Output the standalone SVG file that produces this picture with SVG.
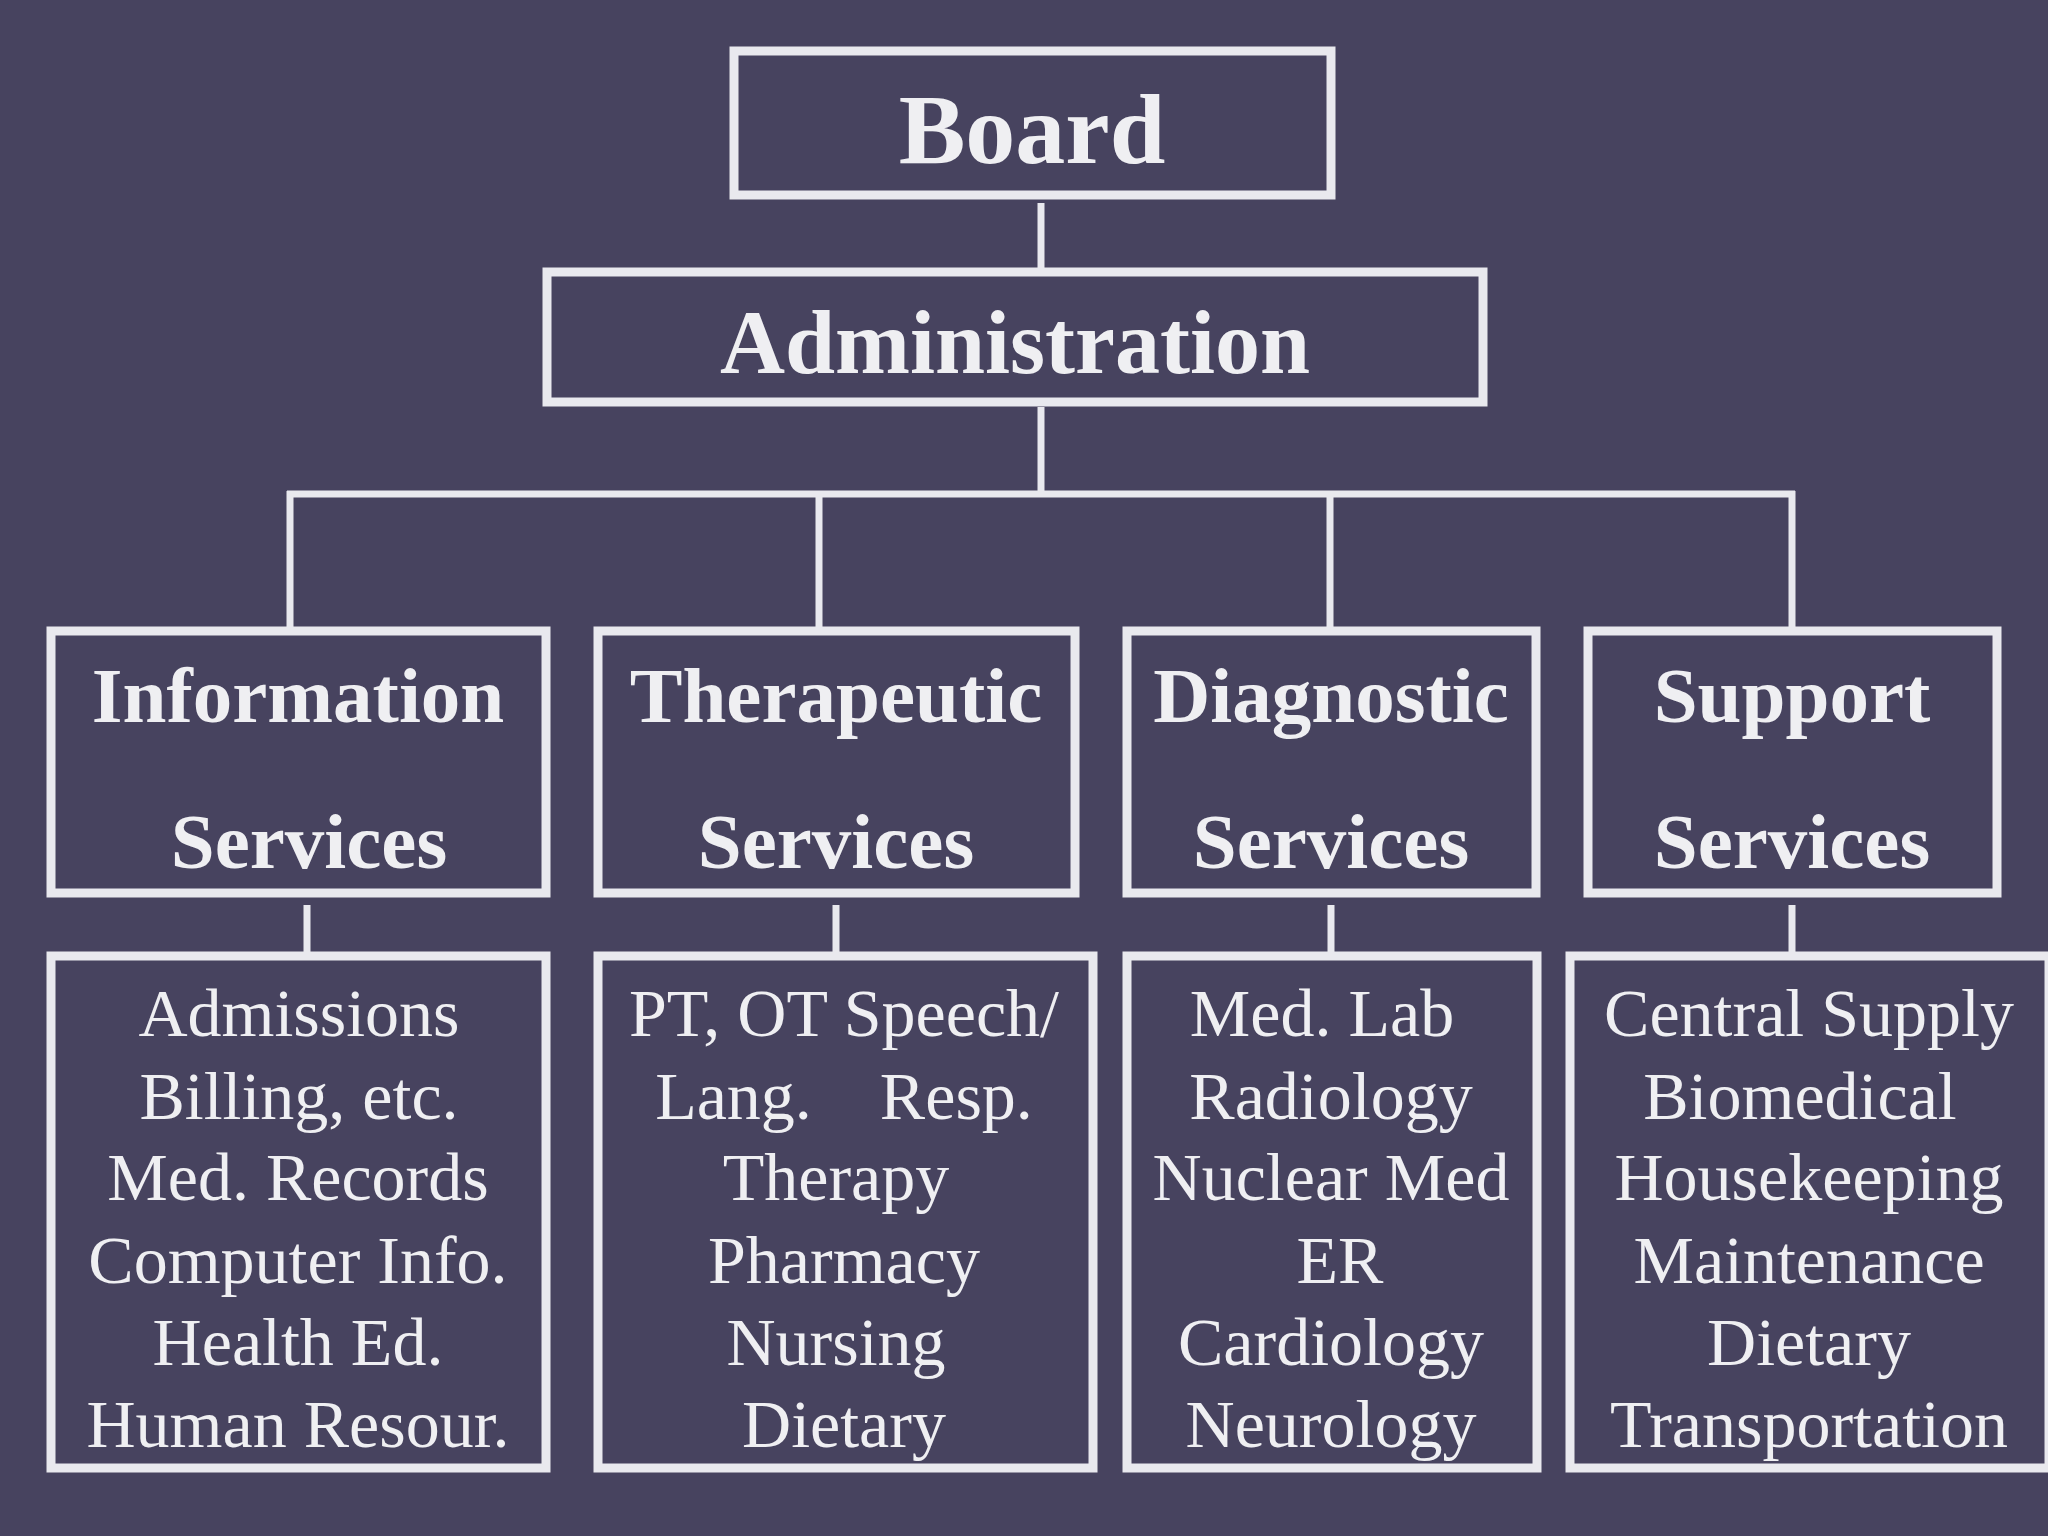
<svg xmlns="http://www.w3.org/2000/svg" width="2048" height="1536" viewBox="0 0 2048 1536">
<style>
.box{fill:none;stroke:#E9E9EE;stroke-width:9}
.ln{stroke:#E9E9EE;stroke-width:7;fill:none}
.h{font-family:"Liberation Serif","Times New Roman",serif;font-weight:bold;fill:#EFEFF2;text-anchor:middle}
.t{font-family:"Liberation Serif","Times New Roman",serif;font-size:68px;fill:#EFEFF2;text-anchor:middle}
</style>
<rect width="2048" height="1536" fill="#47435F"/>
<g id="connectors">
<path class="ln" d="M1041 203V268"/>
<path class="ln" d="M1041 407V494"/>
<path class="ln" d="M287 494H1795"/>
<path class="ln" d="M290 491V627M819 494V627M1330 494V627M1792 491V627"/>
<path class="ln" d="M307 905V952M836 905V952M1331 905V952M1792 905V952"/>
</g>
<g id="board">
<rect class="box" x="734" y="51" width="597" height="144"/>
<text class="h" x="1032" y="163" font-size="100">Board</text>
</g>
<g id="administration">
<rect class="box" x="547" y="272" width="936" height="130"/>
<text class="h" x="1015" y="373" font-size="90">Administration</text>
</g>
<g id="information-services">
<rect class="box" x="51" y="631" width="495" height="262"/>
<text class="h" x="298" y="722" font-size="79">Information</text>
<text class="h" x="309" y="868" font-size="79">Services</text>
</g>
<g id="therapeutic-services">
<rect class="box" x="598" y="631" width="477" height="262"/>
<text class="h" x="836" y="722" font-size="79">Therapeutic</text>
<text class="h" x="836" y="868" font-size="79">Services</text>
</g>
<g id="diagnostic-services">
<rect class="box" x="1127" y="631" width="409" height="262"/>
<text class="h" x="1331" y="722" font-size="79">Diagnostic</text>
<text class="h" x="1331" y="868" font-size="79">Services</text>
</g>
<g id="support-services">
<rect class="box" x="1588" y="631" width="409" height="262"/>
<text class="h" x="1792" y="722" font-size="79">Support</text>
<text class="h" x="1792" y="868" font-size="79">Services</text>
</g>
<g id="information-list">
<rect class="box" x="51" y="956" width="495" height="512"/>
<text class="t" x="299" y="1036">Admissions</text>
<text class="t" x="299" y="1119">Billing, etc.</text>
<text class="t" x="298" y="1200">Med. Records</text>
<text class="t" x="298" y="1283">Computer Info.</text>
<text class="t" x="298" y="1365">Health Ed.</text>
<text class="t" x="298" y="1447">Human Resour.</text>
</g>
<g id="therapeutic-list">
<rect class="box" x="598" y="956" width="495" height="512"/>
<text class="t" x="844" y="1036">PT, OT Speech/</text>
<text class="t" x="844" y="1119" xml:space="preserve">Lang.    Resp.</text>
<text class="t" x="836" y="1200">Therapy</text>
<text class="t" x="844" y="1283">Pharmacy</text>
<text class="t" x="836" y="1365">Nursing</text>
<text class="t" x="844" y="1447">Dietary</text>
</g>
<g id="diagnostic-list">
<rect class="box" x="1127" y="956" width="410" height="512"/>
<text class="t" x="1322" y="1036">Med. Lab</text>
<text class="t" x="1331" y="1119">Radiology</text>
<text class="t" x="1331" y="1200">Nuclear Med</text>
<text class="t" x="1340" y="1283">ER</text>
<text class="t" x="1331" y="1365">Cardiology</text>
<text class="t" x="1331" y="1447">Neurology</text>
</g>
<g id="support-list">
<rect class="box" x="1570" y="956" width="479" height="512"/>
<text class="t" x="1809" y="1036">Central Supply</text>
<text class="t" x="1800" y="1119">Biomedical</text>
<text class="t" x="1809" y="1200">Housekeeping</text>
<text class="t" x="1809" y="1283">Maintenance</text>
<text class="t" x="1809" y="1365">Dietary</text>
<text class="t" x="1809" y="1447">Transportation</text>
</g>
</svg>
